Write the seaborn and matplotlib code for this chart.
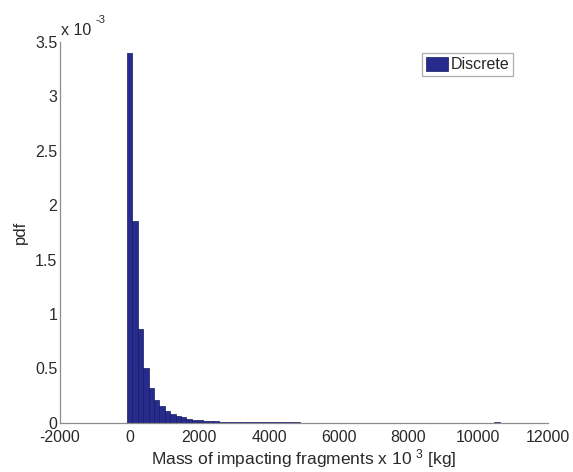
import numpy as np
import pandas as pd
import matplotlib
matplotlib.use("Agg")
import matplotlib.pyplot as plt
import seaborn as sns
from matplotlib.ticker import FuncFormatter, FixedLocator

# Histogram (pdf) of impacting fragment mass, bin width in units of 10^3 kg
bin_width = 155.0
pdf = [
    3.40e-3, 1.85e-3, 0.86e-3, 0.50e-3, 0.32e-3, 0.21e-3, 0.150e-3, 0.110e-3,
    0.082e-3, 0.062e-3, 0.048e-3, 0.037e-3, 0.029e-3, 0.023e-3, 0.018e-3,
    0.014e-3, 0.011e-3, 0.009e-3, 0.007e-3, 0.006e-3, 0.005e-3, 0.004e-3,
    0.004e-3, 0.003e-3, 0.003e-3, 0.003e-3, 0.002e-3, 0.002e-3, 0.002e-3,
    0.002e-3, 0.002e-3, 0.002e-3, 0.001e-3, 0.001e-3, 0.001e-3, 0.001e-3,
    0.001e-3, 0.001e-3, 0.001e-3, 0.001e-3, 0.001e-3, 0.001e-3, 0.001e-3,
    0.001e-3, 0.001e-3, 0.001e-3, 0.001e-3, 0.001e-3, 0.001e-3, 0.001e-3,
    0.001e-3, 0.001e-3, 0.001e-3, 0.001e-3, 0.001e-3, 0.001e-3, 0.001e-3,
    0.001e-3, 0.001e-3, 0.001e-3, 0.001e-3, 0.001e-3, 0.001e-3, 0.001e-3,
    0.001e-3, 0.001e-3, 0.0, 0.0, 0.003e-3, 0.0,
]
x_ticks = [-2000, 0, 2000, 4000, 6000, 8000, 10000, 12000]
y_ticks = [0, 0.5e-3, 1.0e-3, 1.5e-3, 2.0e-3, 2.5e-3, 3.0e-3, 3.5e-3]
legend_label = "Discrete"
x_label = r"Mass of impacting fragments x 10 $^{3}$ [kg]"
y_label = "pdf"

centers = np.arange(len(pdf)) * bin_width
edges = [float(c - bin_width / 2) for c in centers] + [float(centers[-1] + bin_width / 2)]
df = pd.DataFrame({"mass": centers, "pdf": pdf})

sns.set_style("white")
plt.rcParams["font.family"] = ["Liberation Sans", "DejaVu Sans"]
plt.rcParams["mathtext.fontset"] = "custom"
plt.rcParams["mathtext.rm"] = "Liberation Sans"
plt.rcParams["mathtext.it"] = "Liberation Sans"
plt.rcParams["axes.unicode_minus"] = False

TXT = "#2a2a2a"
fig = plt.figure(figsize=(5.73, 4.72), dpi=100)
ax = fig.add_axes([0.1047, 0.1045, 0.8516, 0.8065])

sns.histplot(data=df, x="mass", weights="pdf", bins=edges, stat="count",
             color="#262B8C", edgecolor="#161a60", linewidth=0.5, alpha=1.0,
             label=legend_label, ax=ax)

ax.set_xlim(-2000, 12000)
ax.set_ylim(0, 3.5e-3)
ax.xaxis.set_major_locator(FixedLocator(x_ticks))
ax.yaxis.set_major_locator(FixedLocator(y_ticks))
ax.xaxis.set_major_formatter(FuncFormatter(lambda v, p: f"{v:g}"))
ax.yaxis.set_major_formatter(FuncFormatter(lambda v, p: f"{v * 1e3:g}"))

for side in ("top", "right"):
    ax.spines[side].set_visible(False)
for side in ("left", "bottom"):
    ax.spines[side].set_color("#8c8c8c")
    ax.spines[side].set_linewidth(0.9)
ax.tick_params(direction="in", length=3, width=0.8, color="#8c8c8c",
               labelsize=11.5, labelcolor=TXT)
ax.tick_params(axis="x", pad=5.5)
ax.tick_params(axis="y", pad=2)

ax.set_xlabel(x_label, fontsize=12.5, color=TXT, labelpad=1.5)
ax.set_ylabel(y_label, fontsize=12, color=TXT, labelpad=5)

# scale factor shown above the y axis
ax.text(0.002, 1.031, "x 10", transform=ax.transAxes, fontsize=11.5,
        color=TXT, ha="left", va="center")
ax.text(0.072, 1.058, "-3", transform=ax.transAxes, fontsize=8,
        color=TXT, ha="left", va="center")

leg = ax.legend(loc="upper right", bbox_to_anchor=(0.928, 0.971),
                fontsize=11.5, frameon=True, fancybox=False,
                handlelength=1.4, handleheight=1.05, handletextpad=0.15,
                borderpad=0.22, borderaxespad=0.0)
leg.get_frame().set_edgecolor("#9a9a9a")
leg.get_frame().set_linewidth(0.9)

fig.savefig("out.png", dpi=100, facecolor="white")
